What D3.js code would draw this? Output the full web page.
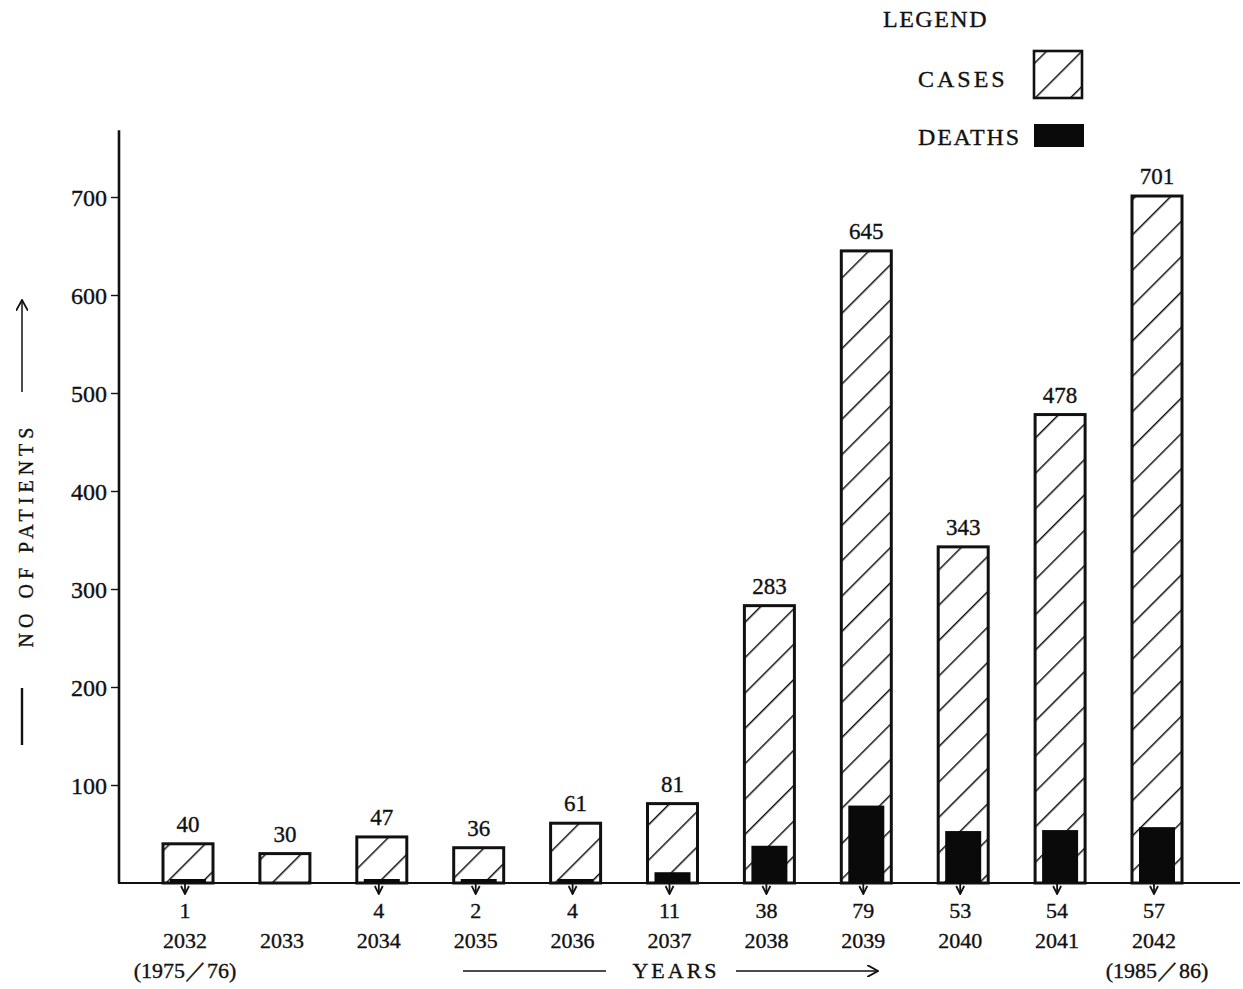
<!DOCTYPE html>
<html><head><meta charset="utf-8">
<script src="https://cdn.jsdelivr.net/npm/d3@7"></script>
<style>body{margin:0;background:#fff}svg text{font-family:"Liberation Serif","Times New Roman",Times,"DejaVu Serif",serif;fill:#111;stroke:#111;stroke-width:0.35px}</style>
</head><body>
<svg id="c" width="1243" height="989"></svg>
<script>
const years = ["2032","2033","2034","2035","2036","2037","2038","2039","2040","2041","2042"];
const cases = [40,30,47,36,61,81,283,645,343,478,701];
const deaths = [1,null,4,2,4,11,38,79,53,54,57];
const yTicks = [100,200,300,400,500,600,700];

const svg = d3.select("#c");
const y = d3.scaleLinear().domain([0,700]).range([883,197]);
const x = d3.scalePoint().domain(years).range([188,1157]);
const bw = 50, dw = 36;
const FF = "Liberation Serif, Times New Roman, serif";

const defs = svg.append("defs");
function hatch(id, tf){
  const p = defs.append("pattern").attr("id",id).attr("patternUnits","userSpaceOnUse")
    .attr("width",25).attr("height",25).attr("patternTransform",tf);
  p.append("line").attr("x1",0).attr("y1",-2).attr("x2",0).attr("y2",27).attr("stroke","#111").attr("stroke-width",3);
}
hatch("hatch","translate(165,883) rotate(45)");
hatch("hatchL","translate(1034,98) rotate(45)");
const ah = defs.append("marker").attr("id","ah").attr("viewBox","0 0 10 10").attr("refX",9).attr("refY",5)
  .attr("markerWidth",10).attr("markerHeight",10).attr("markerUnits","userSpaceOnUse").attr("orient","auto");
ah.append("path").attr("d","M1,1 L9,5 L1,9").attr("fill","none").attr("stroke","#111").attr("stroke-width",1.8);
const ah2 = defs.append("marker").attr("id","ah2").attr("viewBox","0 0 10 10").attr("refX",9).attr("refY",5)
  .attr("markerWidth",12).attr("markerHeight",12).attr("markerUnits","userSpaceOnUse").attr("orient","auto");
ah2.append("path").attr("d","M0,0 L9,5 L0,10").attr("fill","none").attr("stroke","#111").attr("stroke-width",1.5);

// axes
svg.append("line").attr("x1",119).attr("x2",119).attr("y1",y(768)).attr("y2",y(0)).attr("stroke","#111").attr("stroke-width",2.6);
svg.append("line").attr("x1",118).attr("x2",1240).attr("y1",y(0)).attr("y2",y(0)).attr("stroke","#111").attr("stroke-width",2.2);
const yax = svg.append("g").attr("transform","translate(119,0)")
  .call(d3.axisLeft(y).tickValues(yTicks).tickSize(8).tickPadding(4));
yax.attr("font-family",null).attr("font-size",null);
yax.select(".domain").remove();
yax.selectAll("line").attr("stroke","#111").attr("stroke-width",1.4);
yax.selectAll("text").style("font-family",FF).attr("font-size",24).attr("fill","#111").attr("dy","0.34em");

// case bars
const g = svg.append("g");
g.selectAll("rect.case").data(years).join("rect").attr("class","case")
  .attr("x",d=>x(d)-bw/2).attr("width",bw)
  .attr("y",(d,i)=>y(cases[i])).attr("height",(d,i)=>y(0)-y(cases[i]))
  .attr("fill","url(#hatch)").attr("stroke","#111").attr("stroke-width",3);
g.selectAll("text.cv").data(years).join("text").attr("class","cv")
  .attr("x",d=>x(d)).attr("y",(d,i)=>y(cases[i])-12).attr("text-anchor","middle")
  .attr("font-size",23).text((d,i)=>cases[i]);
// death bars
const dy = years.map((d,i)=>({year:d,v:deaths[i]})).filter(d=>d.v!=null);
g.selectAll("rect.death").data(dy).join("rect").attr("class","death")
  .attr("x",d=>x(d.year)-dw/2).attr("width",dw)
  .attr("y",d=>Math.min(y(d.v),y(0)-4)).attr("height",d=>Math.max(y(0)-y(d.v),4))
  .attr("fill","#0a0a0a");
g.selectAll("line.da").data(dy).join("line").attr("class","da")
  .attr("x1",d=>x(d.year)-3).attr("x2",d=>x(d.year)-3).attr("y1",y(0)+1).attr("y2",y(0)+11)
  .attr("stroke","#111").attr("stroke-width",1.8).attr("marker-end","url(#ah)");
g.selectAll("text.dv").data(dy).join("text").attr("class","dv")
  .attr("x",d=>x(d.year)-3).attr("y",918).attr("text-anchor","middle").attr("font-size",22).text(d=>d.v);
g.selectAll("text.yr").data(years).join("text").attr("class","yr")
  .attr("x",d=>x(d)-3).attr("y",948).attr("text-anchor","middle").attr("font-size",22).text(d=>d);
svg.append("text").attr("x",x("2032")-3).attr("y",978).attr("text-anchor","middle").attr("font-size",22).text("(1975／76)");
svg.append("text").attr("x",x("2042")).attr("y",978).attr("text-anchor","middle").attr("font-size",22).text("(1985／86)");

// YEARS
svg.append("text").attr("x",676).attr("y",978).attr("text-anchor","middle").attr("font-size",22).attr("letter-spacing",3).text("YEARS");
svg.append("line").attr("x1",463).attr("x2",606).attr("y1",971).attr("y2",971).attr("stroke","#111").attr("stroke-width",1.4);
svg.append("line").attr("x1",736).attr("x2",878).attr("y1",971).attr("y2",971).attr("stroke","#111").attr("stroke-width",1.4).attr("marker-end","url(#ah2)");

// y label
svg.append("text").attr("transform","translate(33,535) rotate(-90)").attr("text-anchor","middle")
  .attr("font-size",20).attr("letter-spacing",5).text("NO OF PATIENTS");
svg.append("line").attr("x1",22).attr("x2",22).attr("y1",745).attr("y2",688).attr("stroke","#111").attr("stroke-width",2.4);
svg.append("line").attr("x1",22).attr("x2",22).attr("y1",392).attr("y2",300).attr("stroke","#111").attr("stroke-width",1.5).attr("marker-end","url(#ah2)");

// legend
svg.append("text").attr("x",883).attr("y",27).attr("font-size",24).attr("letter-spacing",1.5).text("LEGEND");
svg.append("text").attr("x",918).attr("y",87).attr("font-size",24).attr("letter-spacing",3).text("CASES");
svg.append("text").attr("x",918).attr("y",145).attr("font-size",24).attr("letter-spacing",1.8).text("DEATHS");
svg.append("rect").attr("x",1034).attr("y",51).attr("width",48).attr("height",47).attr("fill","url(#hatchL)").attr("stroke","#111").attr("stroke-width",2.6);
svg.append("rect").attr("x",1034).attr("y",124).attr("width",50).attr("height",23).attr("fill","#0a0a0a");
</script>
</body></html>
